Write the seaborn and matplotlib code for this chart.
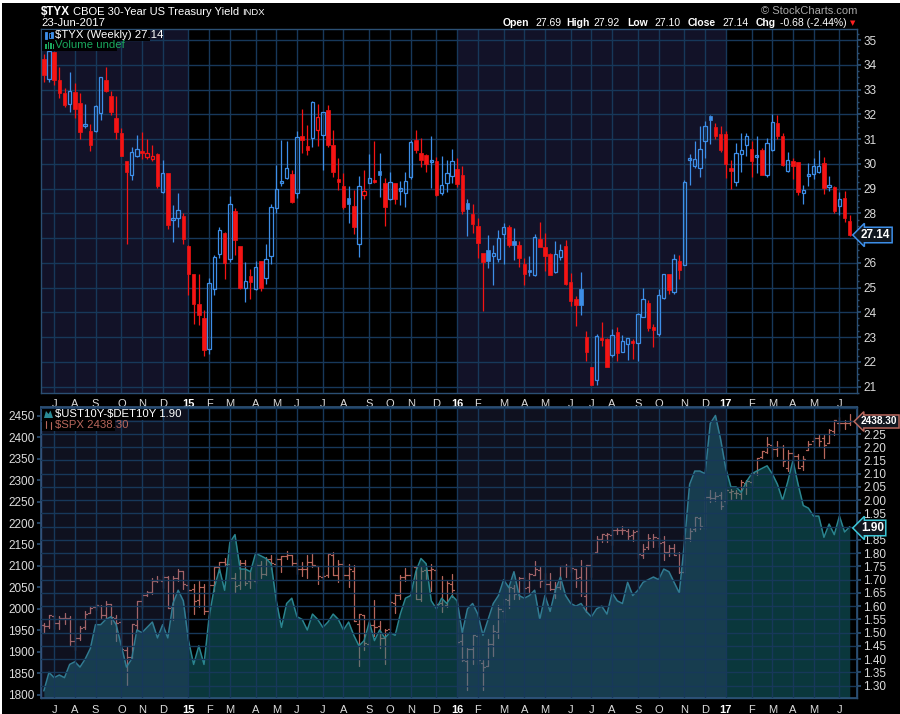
import numpy as np
import pandas as pd
import matplotlib
matplotlib.use("Agg")
import matplotlib.pyplot as plt
from matplotlib.patches import Rectangle, Polygon
import seaborn as sns

# ---- data (weekly, weeks starting 2014-06-23) ----
week_start = "2014-06-23"

tyx_open = [34.23, 33.45, 34.53, 33.39, 32.88, 32.41, 32.92, 32.46, 31.54, 31.33,
            31.34, 32.06, 33.39, 32.74, 31.86, 31.25, 30.13, 29.56, 30.32, 30.54,
            30.28, 30.21, 30.38, 28.87, 29.64, 27.74, 27.82, 27.88, 26.69, 25.54,
            24.32, 23.75, 22.53, 24.95, 26.36, 27.20, 26.16, 28.10, 26.69, 24.99,
            25.48, 24.95, 26.09, 25.40, 26.29, 28.22, 29.23, 29.41, 29.60, 28.83,
            31.14, 30.74, 31.03, 31.36, 31.16, 32.19, 30.78, 29.32, 29.09, 28.64,
            28.28, 26.77, 28.74, 29.23, 29.28, 29.73, 29.23, 28.56, 29.21, 28.92,
            28.82, 29.46, 30.98, 30.44, 30.34, 30.06, 30.13, 28.83, 29.23, 29.51,
            29.78, 29.54, 28.43, 27.97, 27.47, 26.41, 26.50, 26.29, 26.17, 27.18,
            27.46, 26.89, 26.71, 25.95, 25.72, 25.51, 26.96, 26.62, 26.34, 25.64,
            26.25, 26.66, 25.24, 24.54, 24.95, 23.01, 21.78, 21.25, 22.90, 22.94,
            22.28, 23.21, 22.38, 22.73, 22.77, 22.75, 23.82, 24.36, 23.34, 23.12,
            24.56, 25.54, 24.83, 26.08, 25.91, 30.15, 29.91, 29.84, 30.91, 31.95,
            31.49, 31.21, 31.21, 29.76, 29.25, 30.40, 30.78, 30.62, 30.27, 30.58,
            29.57, 30.55, 31.65, 31.14, 29.70, 30.13, 30.09, 28.83, 29.52, 29.60,
            29.66, 30.04, 29.06, 29.06, 28.30, 28.63, 27.69]
tyx_high = [34.46, 34.60, 34.53, 33.92, 33.06, 33.72, 33.28, 32.85, 32.42, 31.61,
            32.38, 33.53, 33.92, 32.96, 32.74, 31.47, 30.13, 30.68, 31.18, 31.30,
            31.01, 30.78, 30.44, 30.17, 29.64, 28.32, 28.83, 28.00, 26.73, 25.54,
            25.53, 24.11, 25.40, 26.33, 27.46, 27.24, 28.71, 28.23, 26.69, 26.02,
            25.75, 26.06, 26.09, 26.78, 28.38, 29.95, 30.97, 30.93, 29.76, 31.34,
            32.23, 31.58, 32.55, 32.43, 32.10, 32.39, 31.38, 30.24, 29.63, 29.09,
            28.93, 29.53, 29.77, 30.38, 30.94, 30.42, 29.44, 29.68, 29.21, 29.30,
            29.68, 30.98, 31.38, 31.06, 30.38, 31.14, 30.27, 30.33, 30.14, 30.62,
            30.22, 29.91, 28.60, 28.37, 27.82, 26.41, 27.11, 26.71, 27.31, 27.60,
            27.51, 27.40, 26.89, 26.21, 26.28, 27.15, 27.66, 27.19, 26.41, 26.88,
            26.75, 26.91, 25.58, 24.67, 25.61, 23.23, 21.78, 23.12, 23.60, 22.98,
            23.32, 23.39, 23.09, 22.98, 22.93, 23.99, 25.00, 24.50, 23.52, 24.96,
            25.56, 25.54, 26.37, 26.30, 29.34, 30.38, 30.91, 31.55, 31.72, 31.99,
            31.65, 31.55, 31.31, 30.17, 30.85, 31.25, 31.25, 30.94, 31.11, 30.65,
            31.05, 32.03, 31.99, 31.25, 30.48, 30.24, 30.09, 29.14, 30.04, 30.24,
            30.57, 30.27, 29.53, 29.12, 28.86, 28.90, 27.92]
tyx_low = [33.32, 33.32, 33.19, 32.65, 32.31, 32.11, 31.87, 31.01, 31.45, 30.53,
           31.30, 31.79, 32.92, 31.98, 31.01, 30.30, 26.75, 29.35, 30.28, 30.20,
           30.21, 30.12, 29.03, 28.83, 27.35, 26.84, 27.45, 26.77, 24.69, 23.51,
           23.48, 22.23, 22.31, 24.68, 26.19, 25.36, 26.02, 26.30, 24.93, 24.42,
           24.53, 24.90, 24.88, 25.16, 25.96, 28.01, 29.09, 29.37, 28.40, 28.61,
           30.42, 30.34, 30.67, 30.71, 29.74, 30.67, 29.46, 28.94, 28.16, 27.59,
           27.15, 26.24, 28.60, 29.21, 29.21, 28.66, 27.49, 28.53, 28.36, 28.33,
           28.26, 29.40, 30.44, 29.87, 29.66, 29.01, 28.69, 28.76, 28.86, 29.21,
           29.07, 27.96, 27.08, 27.20, 26.20, 24.07, 25.78, 25.11, 26.03, 25.94,
           26.65, 26.12, 25.84, 25.11, 25.47, 25.47, 26.65, 25.67, 25.51, 25.60,
           26.12, 25.09, 24.26, 23.46, 23.90, 22.05, 21.05, 21.05, 22.65, 21.80,
           22.18, 22.05, 22.38, 22.08, 22.12, 22.04, 23.80, 23.25, 22.61, 23.05,
           24.53, 24.73, 24.73, 25.34, 25.91, 29.14, 29.84, 29.46, 30.24, 30.82,
           31.01, 30.47, 29.41, 29.00, 29.09, 29.66, 30.31, 29.46, 29.64, 29.55,
           29.46, 30.51, 31.02, 29.90, 29.68, 29.37, 28.76, 28.39, 29.10, 29.39,
           29.64, 28.79, 28.90, 28.00, 27.92, 27.65, 27.10]
tyx_close = [33.60, 34.57, 33.40, 32.88, 32.38, 32.94, 32.22, 31.30, 31.56, 30.77,
             32.33, 33.50, 32.94, 32.11, 31.30, 30.30, 29.66, 30.48, 30.62, 30.43,
             30.42, 30.30, 29.10, 29.64, 27.54, 27.76, 28.14, 26.96, 25.54, 24.33,
             23.91, 22.49, 25.19, 26.24, 27.34, 25.99, 28.37, 26.91, 24.99, 25.27,
             25.21, 25.83, 25.00, 26.16, 28.27, 28.99, 29.25, 29.84, 28.44, 31.09,
             30.95, 30.55, 32.51, 31.90, 32.10, 30.78, 29.66, 29.28, 28.25, 28.37,
             27.45, 29.09, 28.90, 29.44, 29.26, 29.57, 28.25, 29.27, 28.60, 28.95,
             29.31, 30.89, 30.55, 30.15, 29.98, 30.08, 28.76, 29.13, 29.64, 30.12,
             29.18, 28.09, 28.16, 27.56, 26.80, 26.04, 26.06, 26.38, 27.02, 27.46,
             26.72, 26.72, 26.19, 25.55, 25.61, 27.06, 26.65, 26.28, 25.51, 26.37,
             26.51, 25.13, 24.46, 24.31, 24.31, 22.41, 21.08, 23.03, 22.87, 21.80,
             23.09, 22.34, 22.85, 22.98, 22.75, 23.92, 24.53, 23.37, 23.30, 24.69,
             25.56, 24.91, 26.17, 25.71, 29.27, 30.17, 30.21, 30.62, 31.55, 31.79,
             31.12, 30.58, 30.01, 29.73, 30.44, 30.56, 31.11, 30.11, 30.29, 29.55,
             30.85, 31.69, 31.11, 29.97, 30.14, 29.93, 28.85, 28.96, 29.55, 29.91,
             29.93, 29.03, 29.16, 28.09, 28.57, 27.80, 27.14]

spread = [1.28, 1.35, 1.33, 1.34, 1.33, 1.38, 1.39, 1.37, 1.40, 1.44,
          1.53, 1.53, 1.55, 1.56, 1.53, 1.45, 1.37, 1.40, 1.51, 1.50,
          1.52, 1.54, 1.48, 1.53, 1.48, 1.61, 1.66, 1.62, 1.47, 1.38,
          1.45, 1.38, 1.56, 1.67, 1.74, 1.66, 1.84, 1.87, 1.74, 1.74,
          1.73, 1.80, 1.79, 1.78, 1.76, 1.62, 1.52, 1.61, 1.63, 1.56,
          1.55, 1.51, 1.57, 1.55, 1.52, 1.54, 1.57, 1.55, 1.51, 1.54,
          1.49, 1.45, 1.47, 1.54, 1.47, 1.51, 1.48, 1.50, 1.49, 1.57,
          1.63, 1.64, 1.73, 1.78, 1.76, 1.62, 1.59, 1.63, 1.61, 1.64,
          1.62, 1.50, 1.59, 1.61, 1.57, 1.49, 1.55, 1.61, 1.64, 1.70,
          1.67, 1.73, 1.64, 1.63, 1.64, 1.66, 1.55, 1.64, 1.58, 1.66,
          1.71, 1.64, 1.61, 1.60, 1.61, 1.58, 1.56, 1.59, 1.60, 1.57,
          1.65, 1.62, 1.61, 1.69, 1.64, 1.66, 1.69, 1.70, 1.71, 1.70,
          1.74, 1.73, 1.69, 1.65, 1.84, 2.06, 2.11, 2.11, 2.10, 2.29,
          2.32, 2.23, 2.12, 2.05, 2.05, 2.03, 2.07, 2.10, 2.11, 2.12,
          2.13, 2.10, 2.06, 2.00, 2.07, 2.15, 2.06, 1.98, 1.97, 1.94,
          1.94, 1.86, 1.91, 1.87, 1.94, 1.88, 1.90]

spx_open = [1962, 1961, 1984, 1966, 1979, 1979, 1926, 1932, 1958, 1990,
            2004, 2007, 1986, 2012, 1978, 1970, 1905, 1888, 1962, 2018,
            2032, 2039, 2066, 2066, 2074, 2005, 2073, 2088, 2055, 2046,
            2020, 2050, 1996, 2055, 2097, 2109, 2105, 2072, 2055, 2107,
            2064, 2064, 2102, 2082, 2117, 2105, 2115, 2122, 2125, 2108,
            2092, 2092, 2110, 2099, 2074, 2080, 2126, 2079, 2104, 2078,
            2089, 1965, 1986, 1918, 1963, 1960, 1932, 1953, 2013, 2033,
            2075, 2080, 2097, 2022, 2090, 2091, 2091, 2014, 2010, 2058,
            2038, 1926, 1879, 1906, 1936, 1874, 1868, 1917, 1946, 1996,
            2020, 2048, 2037, 2073, 2050, 2079, 2090, 2067, 2057, 2047,
            2052, 2100, 2100, 2092, 2075, 2031, 2103, 2132, 2162, 2173,
            2173, 2184, 2183, 2182, 2171, 2181, 2125, 2143, 2160, 2164,
            2155, 2133, 2142, 2129, 2087, 2164, 2186, 2211, 2191, 2260,
            2259, 2266, 2251, 2273, 2270, 2267, 2294, 2295, 2321, 2353,
            2365, 2381, 2372, 2378, 2329, 2363, 2357, 2333, 2370, 2390,
            2399, 2399, 2387, 2415, 2432, 2432, 2432]
spx_high = [1968, 1985, 1985, 1983, 1991, 1984, 1944, 1960, 1994, 2006,
            2011, 2008, 2019, 2012, 1985, 1978, 1912, 1965, 2019, 2034,
            2041, 2071, 2076, 2079, 2076, 2077, 2094, 2089, 2064, 2057,
            2064, 2057, 2072, 2097, 2110, 2119, 2117, 2083, 2114, 2114,
            2089, 2106, 2111, 2120, 2126, 2120, 2123, 2134, 2126, 2115,
            2109, 2126, 2130, 2099, 2085, 2127, 2133, 2114, 2113, 2105,
            2102, 1989, 1986, 1975, 2021, 1972, 1952, 2021, 2035, 2080,
            2095, 2116, 2099, 2097, 2095, 2104, 2094, 2076, 2064, 2082,
            2038, 1951, 1908, 1940, 1947, 1881, 1930, 1962, 2009, 2022,
            2053, 2056, 2075, 2075, 2083, 2111, 2097, 2084, 2084, 2062,
            2100, 2105, 2120, 2094, 2113, 2103, 2131, 2169, 2175, 2177,
            2183, 2188, 2194, 2187, 2184, 2187, 2150, 2175, 2175, 2165,
            2169, 2148, 2152, 2133, 2172, 2189, 2214, 2214, 2260, 2278,
            2273, 2273, 2282, 2279, 2276, 2301, 2300, 2319, 2351, 2368,
            2401, 2382, 2390, 2382, 2369, 2366, 2361, 2356, 2392, 2400,
            2404, 2406, 2419, 2440, 2446, 2441, 2454]
spx_low = [1944, 1955, 1953, 1952, 1965, 1916, 1904, 1928, 1953, 1990,
           1997, 1978, 1978, 1965, 1926, 1904, 1821, 1883, 1951, 2001,
           2030, 2034, 2063, 2049, 2002, 1973, 2064, 2047, 1992, 1988,
           2005, 1989, 1980, 2041, 2086, 2100, 2066, 2039, 2046, 2055,
           2048, 2060, 2073, 2080, 2092, 2067, 2085, 2115, 2099, 2082,
           2076, 2072, 2098, 2057, 2044, 2074, 2078, 2063, 2068, 2052,
           1971, 1867, 1903, 1910, 1937, 1909, 1872, 1950, 1990, 2023,
           2066, 2076, 2022, 2019, 2070, 2042, 2006, 1993, 2005, 2028,
           1918, 1878, 1812, 1872, 1872, 1810, 1868, 1891, 1931, 1969,
           2002, 2022, 2022, 2033, 2039, 2078, 2052, 2039, 2045, 2025,
           2047, 2075, 2087, 2050, 2030, 1992, 2075, 2131, 2155, 2156,
           2148, 2174, 2175, 2160, 2157, 2119, 2119, 2139, 2145, 2144,
           2114, 2124, 2125, 2084, 2084, 2157, 2182, 2187, 2187, 2248,
           2252, 2233, 2245, 2254, 2258, 2257, 2267, 2289, 2313, 2352,
           2362, 2354, 2357, 2334, 2322, 2344, 2328, 2323, 2370, 2379,
           2380, 2352, 2386, 2405, 2415, 2418, 2429]
spx_close = [1961, 1985, 1967, 1978, 1978, 1925, 1931, 1955, 1988, 2003,
             2008, 1985, 2011, 1982, 1968, 1906, 1887, 1964, 2018, 2032,
             2039, 2064, 2068, 2075, 2003, 2071, 2089, 2058, 2045, 2019,
             2051, 1995, 2055, 2097, 2110, 2105, 2071, 2053, 2108, 2061,
             2067, 2102, 2081, 2117, 2108, 2116, 2123, 2126, 2107, 2092,
             2094, 2110, 2102, 2077, 2077, 2127, 2080, 2104, 2078, 2092,
             1971, 1989, 1921, 1962, 1958, 1931, 1951, 2015, 2033, 2075,
             2079, 2100, 2023, 2089, 2090, 2092, 2012, 2006, 2061, 2044,
             1922, 1880, 1907, 1940, 1880, 1865, 1918, 1948, 2000, 2022,
             2050, 2035, 2073, 2048, 2081, 2092, 2065, 2057, 2047, 2052,
             2099, 2099, 2096, 2071, 2037, 2103, 2130, 2162, 2175, 2174,
             2183, 2184, 2184, 2169, 2180, 2128, 2139, 2165, 2168, 2153,
             2133, 2141, 2126, 2085, 2164, 2182, 2213, 2192, 2260, 2258,
             2263, 2239, 2277, 2275, 2271, 2295, 2297, 2316, 2351, 2367,
             2383, 2373, 2378, 2344, 2363, 2355, 2329, 2349, 2384, 2399,
             2391, 2382, 2416, 2439, 2432, 2433, 2438.30]

month_letters = ["J", "F", "M", "A", "M", "J", "J", "A", "S", "O", "N", "D"]

# ---- colours ----
BG = "#000000"
SHADE = "#121228"
GRID = "#17385a"
SPINE = "#2b4f73"
TXT = "#dcdcdc"
BLUE = "#3d8ee8"
RED = "#f51414"
SALMON = "#b8675c"
TEAL = "#177a84"

sns.set_theme(style="dark", rc={"axes.facecolor": BG, "figure.facecolor": BG})
plt.rcParams["font.family"] = ["Liberation Sans", "DejaVu Sans"]
plt.rcParams["text.parse_math"] = False

W, H = 900, 714


def fx(x):
    return x / W


def fy(y):
    return 1 - y / H


n = len(tyx_close)
idx = np.arange(n)
dates = pd.date_range(week_start, periods=n, freq="W-MON")
month_idx = [i for i in range(1, n) if dates[i].month != dates[i - 1].month]
month_lbl = [("%02d" % (dates[i].year % 100)) if dates[i].month == 1
             else month_letters[dates[i].month - 1] for i in month_idx]
year_idx = [i for i in month_idx if dates[i].month == 1]

fig = plt.figure(figsize=(9, 7.14), dpi=100)
fig.patch.set_facecolor(BG)

ax1 = fig.add_axes([fx(41), fy(392.7), fx(816), (392.7 - 29.3) / H])
ax2 = fig.add_axes([fx(41), fy(698.3), fx(816), (698.3 - 407.0) / H])
ax2b = ax2.twinx()
ax2b.patch.set_visible(False)

XL = (-0.55, 157.4)


def style_axis(ax):
    ax.set_facecolor(BG)
    for s in ax.spines.values():
        s.set_color(SPINE)
        s.set_linewidth(1.0)
    ax.set_xlim(*XL)
    ax.set_xticks(month_idx)
    ax.set_xticklabels(month_lbl)
    ax.set_xticks(idx, minor=True)
    ax.tick_params(axis="x", which="major", length=3, color=SPINE, colors=TXT,
                   labelsize=8, pad=1.5)
    ax.tick_params(axis="x", which="minor", length=2, color=SPINE, width=0.7)
    for lab, i in zip(ax.get_xticklabels(), month_idx):
        if i in year_idx:
            lab.set_fontweight("bold")
            lab.set_color("white")
    ax.grid(False)


# ---------------- top panel: $TYX candles ----------------
style_axis(ax1)
ax1.set_ylim(20.76, 35.44)
for a, b in [(XL[0], year_idx[0]), (year_idx[1], year_idx[2])]:
    ax1.axvspan(a, b, color=SHADE, lw=0, zorder=0)
for m in month_idx:
    ax1.axvline(m, color=GRID, lw=1, zorder=1)
for v in range(21, 36):
    ax1.axhline(v, color=GRID, lw=1, zorder=1)

bw = 0.66
for i in range(n):
    o, h, l, c = tyx_open[i], tyx_high[i], tyx_low[i], tyx_close[i]
    prev = tyx_close[i - 1] if i > 0 else o
    col = RED if c < prev else BLUE
    lo, hi = min(o, c), max(o, c)
    ax1.plot([i, i], [l, lo], color=col, lw=0.9, zorder=3, solid_capstyle="butt")
    ax1.plot([i, i], [hi, h], color=col, lw=0.9, zorder=3, solid_capstyle="butt")
    body_h = max(hi - lo, 0.09)
    if c < o:
        rect = Rectangle((i - bw / 2, lo), bw, body_h, fc=col, ec=col, lw=0.5, zorder=4)
    else:
        rect = Rectangle((i - bw / 2, lo), bw, body_h, fc="none", ec=col, lw=0.9, zorder=4)
    ax1.add_patch(rect)

ax1.yaxis.tick_right()
ax1.set_yticks(range(21, 36))
ax1.set_yticklabels(["" if v == 27 else str(v) for v in range(21, 36)])
ax1.set_yticks(np.arange(20.75, 35.5, 0.25), minor=True)
ax1.tick_params(axis="y", which="major", length=3, color=SPINE, colors=TXT,
                labelsize=8.5, pad=1.5)
ax1.tick_params(axis="y", which="minor", length=1.5, color=SPINE)

# ---------------- bottom panel: spread area + $SPX bars ----------------
style_axis(ax2)
ax2.set_ylim(1791.6, 2470.3)
for i in range(n):
    ax2.plot([i, i], [spx_low[i], spx_high[i]], color=SALMON, lw=0.9, zorder=2)
    ax2.plot([i - 0.4, i], [spx_open[i], spx_open[i]], color=SALMON, lw=0.9, zorder=2)
    ax2.plot([i, i + 0.4], [spx_close[i], spx_close[i]], color=SALMON, lw=0.9, zorder=2)
ax2.set_yticks(range(1800, 2451, 50))
ax2.tick_params(axis="y", which="major", length=3, color=SPINE, colors=TXT,
                labelsize=8.5, pad=1.5, left=True, labelleft=True)

sp_ticks = np.round(np.arange(1.30, 2.26, 0.05), 2)
ax2b.set_xlim(*XL)
ax2b.set_ylim(1.252, 2.352)
ax2b.fill_between(idx, spread, 1.0, color=TEAL, alpha=0.46, lw=0, zorder=2)
sns.lineplot(x=idx, y=spread, ax=ax2b, color="#2a8590", lw=1.1, zorder=3)
for a, b in [(XL[0], year_idx[0]), (year_idx[1], year_idx[2])]:
    ax2b.axvspan(a, b, color="#4e5aa0", alpha=0.2, lw=0, zorder=4)
for m in month_idx:
    ax2b.axvline(m, color=GRID, lw=1, zorder=5)
for v in np.arange(1.25, 2.36, 0.05):
    ax2b.axhline(v, color=GRID, lw=1, zorder=5)
ax2b.set_yticks(sp_ticks)
ax2b.set_yticklabels(["" if abs(v - 1.90) < 1e-6 else "%.2f" % v for v in sp_ticks])
ax2b.set_ylabel("")
ax2b.set_xlabel("")
ax2b.tick_params(axis="y", length=3, color=SPINE, colors=TXT, labelsize=8.5, pad=1.5)
for s in ax2b.spines.values():
    s.set_color(SPINE)

# ---------------- header texts ----------------
fig.text(fx(41), fy(12), "$TYX", color="white", fontsize=8.4, fontweight="bold", va="center")
fig.text(fx(73), fy(12), "CBOE 30-Year US Treasury Yield", color="white", fontsize=8.0, va="center")
fig.text(fx(242), fy(12.5), "INDX", color="white", fontsize=6.8, va="center")
fig.text(fx(41), fy(23.5), "23-Jun-2017", color="white", fontsize=8.2, va="center")
fig.text(fx(857), fy(11), "\u00a9 StockCharts.com", color="#a8a8a8", fontsize=8.0,
         va="center", ha="right")
hdr = [(502.7, "Open", True), (535, "27.69", False), (566.5, "High", True),
       (593, "27.92", False), (627.7, "Low", True), (654.3, "27.10", False),
       (687.7, "Close", True), (722.7, "27.14", False), (756, "Chg", True),
       (780, "-0.68 (-2.44%)", False)]
for x, s, b in hdr:
    fig.text(fx(x), fy(22.5), s, color="white", fontsize=7.5,
             fontweight="bold" if b else "normal", va="center")
fig.text(fx(853), fy(23), "\u25bc", color="#ff2020", fontsize=5.0, va="center", ha="center",
         family="DejaVu Sans")

# ---------------- legends ----------------
def box(x0, y0, x1, y1):
    fig.add_artist(Rectangle((fx(x0), fy(y1)), fx(x1 - x0), (y1 - y0) / H,
                             transform=fig.transFigure, fc="black", ec="none", zorder=20))


box(42, 30, 150, 40.5)
box(42, 40.5, 117, 51)
fig.text(fx(55), fy(35.5), "$TYX (Weekly) 27.14", color="white", fontsize=8.2,
         va="center", zorder=21)
fig.text(fx(55), fy(45.5), "Volume undef", color="#1aa85e", fontsize=8.2,
         va="center", zorder=21)
for x0, y0, y1, fc in [(45, 32, 39, BLUE), (48.5, 33, 38, "none"), (51, 32, 38, BLUE)]:
    fig.add_artist(Rectangle((fx(x0), fy(y1)), fx(2), (y1 - y0) / H, transform=fig.transFigure,
                             fc=fc, ec=BLUE, lw=0.6, zorder=21))
for x0, y0 in [(45, 44), (47.5, 42), (50, 43), (52.5, 44)]:
    fig.add_artist(Rectangle((fx(x0), fy(49)), fx(1.8), (49 - y0) / H, transform=fig.transFigure,
                             fc="#1aa85e", ec="none", zorder=21))

box(42, 408.5, 162, 419.5)
box(42, 419.5, 115, 430.5)
fig.text(fx(55), fy(414), "$UST10Y-$DET10Y 1.90", color="white", fontsize=8.2,
         va="center", zorder=21)
fig.text(fx(55), fy(425), "$SPX 2438.30", color=SALMON, fontsize=8.2,
         va="center", zorder=21)
fig.add_artist(Polygon([(fx(44), fy(418)), (fx(46), fy(411)), (fx(48.5), fy(414)),
                        (fx(50.5), fy(410.5)), (fx(53), fy(418))], closed=True,
                       transform=fig.transFigure, fc="#2a8a96", ec="none", zorder=21))
for x0, y0, y1 in [(46, 421, 428), (50.5, 422, 429)]:
    fig.add_artist(plt.Line2D([fx(x0), fx(x0)], [fy(y0), fy(y1)], transform=fig.transFigure,
                              color=SALMON, lw=0.8, zorder=21))

# ---------------- last value tags ----------------
tags = [(235, "27.14", BLUE, 8.5), (421.5, "2438.30", SALMON, 7.3), (528, "1.90", "#3cc8d8", 8.5)]
for y, s, ec, fs in tags:
    fig.text(fx(861), fy(y), s, color="white", fontsize=fs, fontweight="bold", va="center",
             ha="left", zorder=25,
             bbox=dict(boxstyle="larrow,pad=0.15", fc="#10161e", ec=ec, lw=1.1))

# thin white frame (top and left)
for rect in [(0, fy(2.5), 1, 2.5 / H), (0, 0, fx(2), 1)]:
    fig.add_artist(Rectangle(rect[:2], rect[2], rect[3], transform=fig.transFigure,
                             fc="white", ec="none", zorder=30))

fig.savefig("out.png", dpi=100, facecolor=BG)
